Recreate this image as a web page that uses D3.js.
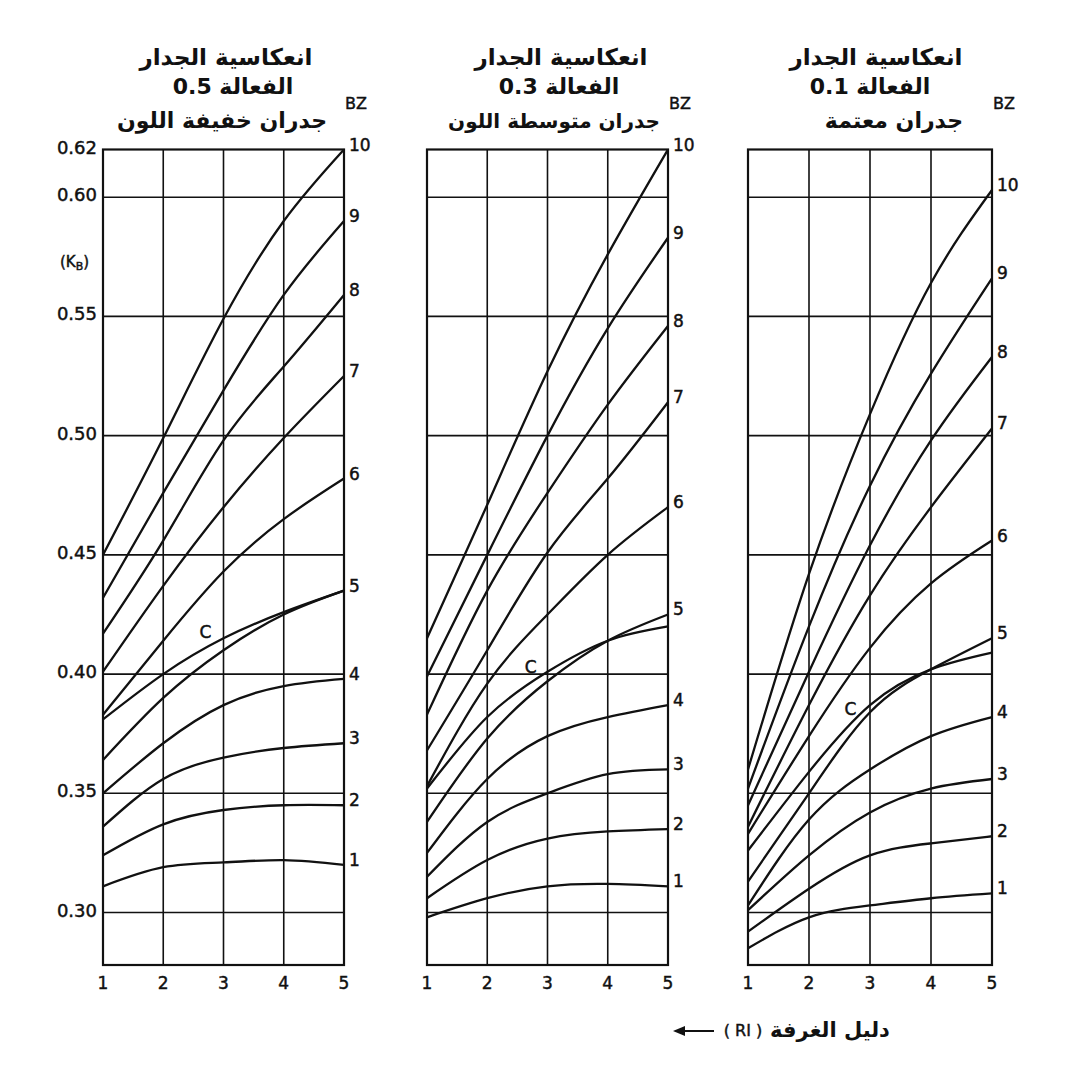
<!DOCTYPE html>
<html>
<head>
<meta charset="utf-8">
<script src="https://cdn.jsdelivr.net/npm/d3@7"></script>
<style>
  html, body { margin: 0; padding: 0; background: #fff; }
  svg { display: block; }
  .frame { fill: none; stroke: #111; stroke-width: 2.2; }
  .grid { stroke: #111; stroke-width: 1.6; }
  .curve { fill: none; stroke: #111; stroke-width: 2.3; }
  .num { font-family: "DejaVu Sans", sans-serif; fill: #111; stroke: #111; stroke-width: 0.45; }
  .ar { font-family: "DejaVu Sans", sans-serif; font-weight: bold; fill: #111; }
</style>
</head>
<body>
<svg id="chart" width="1079" height="1066"></svg>
<script>
// Utilance (Ks) against room index (RI) for three effective wall reflectances.
// Each panel holds one curve per BZ class plus the "C" curve.

const RI = [1, 2, 3, 4, 5];
const BZ = ['10', '9', '8', '7', '6', 'C', '5', '4', '3', '2', '1'];
const Y_TICKS = [0.62, 0.60, 0.55, 0.50, 0.45, 0.40, 0.35, 0.30];
const Y_GRID = [0.60, 0.55, 0.50, 0.45, 0.40, 0.35, 0.30];
const Y_DOMAIN = [0.278, 0.62];

// wall reflectance 0.5 (light walls)
const KS_05 = [
    [0.450, 0.499, 0.549, 0.590, 0.620],
    [0.432, 0.476, 0.519, 0.559, 0.590],
    [0.417, 0.456, 0.498, 0.529, 0.559],
    [0.401, 0.437, 0.470, 0.499, 0.525],
    [0.383, 0.414, 0.443, 0.465, 0.482],
    [0.381, 0.400, 0.415, 0.426, 0.435],
    [0.364, 0.390, 0.410, 0.425, 0.435],
    [0.350, 0.371, 0.387, 0.395, 0.398],
    [0.336, 0.356, 0.365, 0.369, 0.371],
    [0.324, 0.337, 0.343, 0.345, 0.345],
    [0.311, 0.319, 0.321, 0.322, 0.320]
];

// wall reflectance 0.3 (medium walls)
const KS_03 = [
    [0.415, 0.471, 0.527, 0.576, 0.620],
    [0.399, 0.450, 0.500, 0.545, 0.583],
    [0.383, 0.435, 0.476, 0.513, 0.546],
    [0.368, 0.410, 0.451, 0.482, 0.514],
    [0.353, 0.396, 0.425, 0.450, 0.470],
    [0.352, 0.382, 0.401, 0.414, 0.420],
    [0.338, 0.373, 0.397, 0.414, 0.425],
    [0.325, 0.356, 0.374, 0.382, 0.387],
    [0.315, 0.338, 0.350, 0.358, 0.360],
    [0.306, 0.322, 0.331, 0.334, 0.335],
    [0.298, 0.306, 0.311, 0.312, 0.311]
];

// wall reflectance 0.1 (dark walls)
const KS_01 = [
    [0.360, 0.442, 0.509, 0.564, 0.603],
    [0.352, 0.420, 0.479, 0.526, 0.566],
    [0.345, 0.401, 0.454, 0.498, 0.533],
    [0.336, 0.387, 0.433, 0.470, 0.503],
    [0.333, 0.374, 0.411, 0.438, 0.456],
    [0.326, 0.359, 0.387, 0.402, 0.409],
    [0.313, 0.350, 0.384, 0.402, 0.415],
    [0.303, 0.339, 0.360, 0.374, 0.382],
    [0.301, 0.324, 0.342, 0.352, 0.356],
    [0.292, 0.310, 0.324, 0.329, 0.332],
    [0.285, 0.298, 0.303, 0.306, 0.308]
];

const TITLE_1 = ['انعكاسية الجدار', 'انعكاسية الجدار', 'انعكاسية الجدار'];
const TITLE_2 = ['الفعالة  0.5', 'الفعالة  0.3', 'الفعالة  0.1'];
const TITLE_3 = ['جدران خفيفة اللون', 'جدران متوسطة اللون', 'جدران معتمة'];
const C_LABEL_RI = [2.7, 2.72, 2.68];

const panels = [
    {ks: KS_05, left: 103, right: 344, titleX: [226, 233, 222], t3Size: 22},
    {ks: KS_03, left: 427, right: 668, titleX: [561, 559, 554], t3Size: 20},
    {ks: KS_01, left: 748, right: 992, titleX: [876, 870, 894], t3Size: 22}
];

const svg = d3.select('#chart');
const plotTop = 149.5, plotBottom = 965;

const y = d3.scaleLinear().domain(Y_DOMAIN).range([plotBottom, plotTop]);

panels.forEach((p, pi) => {
    const x = d3.scaleLinear().domain([1, 5]).range([p.left, p.right]);
    const g = svg.append('g');

    // grid
    g.selectAll('.vgrid').data(RI.slice(1, -1)).enter().append('line')
        .attr('class', 'grid')
        .attr('x1', d => x(d)).attr('x2', d => x(d))
        .attr('y1', plotTop).attr('y2', plotBottom);
    g.selectAll('.hgrid').data(Y_GRID).enter().append('line')
        .attr('class', 'grid')
        .attr('x1', p.left).attr('x2', p.right)
        .attr('y1', d => y(d)).attr('y2', d => y(d));
    g.append('rect').attr('class', 'frame')
        .attr('x', p.left).attr('y', plotTop)
        .attr('width', p.right - p.left).attr('height', plotBottom - plotTop);

    // curves
    const line = d3.line()
        .x((d, i) => x(RI[i]))
        .y(d => y(d))
        .curve(d3.curveNatural);

    g.selectAll('.curve').data(p.ks).enter().append('path')
        .attr('class', 'curve')
        .attr('d', d => line(d));

    // end labels
    p.ks.forEach((vals, ci) => {
        if (BZ[ci] === 'C') return;
        g.append('text').attr('class', 'num')
            .attr('x', x(5) + 5)
            .attr('y', y(vals[4]) + 1)
            .attr('font-size', 17)
            .text(BZ[ci]);
    });

    // C label sits just above its curve
    const cVals = p.ks[BZ.indexOf('C')];
    const cRI = C_LABEL_RI[pi];
    const cKs = d3.scaleLinear().domain(RI).range(cVals)(cRI);
    g.append('text').attr('class', 'num')
        .attr('x', x(cRI))
        .attr('y', y(cKs) - 11)
        .attr('text-anchor', 'middle')
        .attr('font-size', 17)
        .text('C');

    // x tick labels
    g.selectAll('.xt').data(RI).enter().append('text')
        .attr('class', 'num')
        .attr('x', d => x(d))
        .attr('y', plotBottom + 24)
        .attr('text-anchor', 'middle')
        .attr('font-size', 17)
        .text(d => d);

    // titles
    g.append('text').attr('class', 'ar').attr('text-anchor', 'middle')
        .attr('x', p.titleX[0]).attr('y', 65).attr('font-size', 23)
        .text(TITLE_1[pi]);
    g.append('text').attr('class', 'ar').attr('text-anchor', 'middle')
        .attr('x', p.titleX[1]).attr('y', 94).attr('font-size', 22)
        .text(TITLE_2[pi]);
    g.append('text').attr('class', 'ar').attr('text-anchor', 'middle')
        .attr('x', p.titleX[2]).attr('y', 128).attr('font-size', p.t3Size)
        .text(TITLE_3[pi]);
    g.append('text').attr('class', 'num')
        .attr('x', x(5) + 1).attr('y', 109)
        .attr('font-size', 16)
        .text('BZ');
});

// y tick labels on the first panel
svg.selectAll('.yt').data(Y_TICKS).enter().append('text')
    .attr('class', 'num')
    .attr('x', 97)
    .attr('y', d => y(d) + 4)
    .attr('text-anchor', 'end')
    .attr('font-size', 18)
    .text(d => d.toFixed(2));

const ks = svg.append('text').attr('class', 'num')
    .attr('x', 60).attr('y', 267).attr('font-size', 15);
ks.append('tspan').text('(K');
ks.append('tspan').attr('dy', 3).attr('font-size', 11).text('B');
ks.append('tspan').attr('dy', -3).text(')');

// room index caption with arrow
svg.append('line')
    .attr('x1', 680).attr('x2', 714).attr('y1', 1031).attr('y2', 1031)
    .attr('stroke', '#111').attr('stroke-width', 1.8);
svg.append('path')
    .attr('d', 'M673,1031 L685,1026 L685,1036 Z')
    .attr('fill', '#111');
svg.append('text').attr('class', 'num')
    .attr('x', 743).attr('y', 1036).attr('text-anchor', 'middle')
    .attr('font-size', 16).text('( RI )');
svg.append('text').attr('class', 'ar')
    .attr('x', 830).attr('y', 1037).attr('text-anchor', 'middle')
    .attr('font-size', 21).text('دليل الغرفة');
</script>
</body>
</html>
